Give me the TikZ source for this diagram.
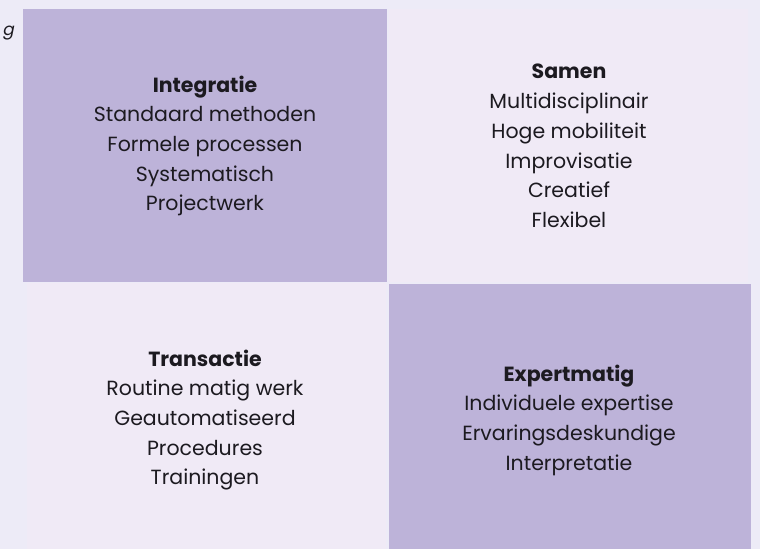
\documentclass[tikz,border=0pt]{standalone}
\usepackage{fontspec}
\setmainfont{Poppins}
\newfontfamily\slantfont[FakeSlant=0.2]{Poppins}
\usepackage{xcolor}
\definecolor{pageback}{RGB}{237,235,247}
\definecolor{quadpurple}{RGB}{189,179,217}
\definecolor{quadlight}{RGB}{240,234,246}
\definecolor{quadtext}{RGB}{28,26,32}

\begin{document}
\begin{tikzpicture}[x=1pt,y=-1pt,
    quadtxt/.style={align=center, text=quadtext, font=\fontsize{20.5}{29.7}\selectfont}]
    \fill[pageback] (0,0) rectangle (760,549);
    \useasboundingbox (0,0) rectangle (760,549);
    \fill[quadpurple] (23,9) rectangle (387,282);
    \fill[quadlight] (389,9) rectangle (748,282);
    \fill[quadlight] (27,283) rectangle (386,549);
    \fill[quadpurple] (389,284) rectangle (751,549);
    \node[anchor=east, inner sep=1pt, text=quadtext, font=\slantfont\fontsize{17}{20}\selectfont] (cut) at (15,33)
    {g};
    \node[quadtxt] (integ) at (205,146)
    {\textbf{Integratie}\\Standaard methoden\\Formele processen\\Systematisch\\Projectwerk};
    \node[quadtxt] (samen) at (569,146)
    {\textbf{Samen}\\Multidisciplinair\\Hoge mobiliteit\\Improvisatie\\Creatief\\Flexibel};
    \node[quadtxt] (trans) at (205,420)
    {\textbf{Transactie}\\Routine matig werk\\Geautomatiseerd\\Procedures\\Trainingen};
    \node[quadtxt] (expert) at (569,420)
    {\textbf{Expertmatig}\\Individuele expertise\\Ervaringsdeskundige\\Interpretatie};
  \end{tikzpicture}
\end{document}
